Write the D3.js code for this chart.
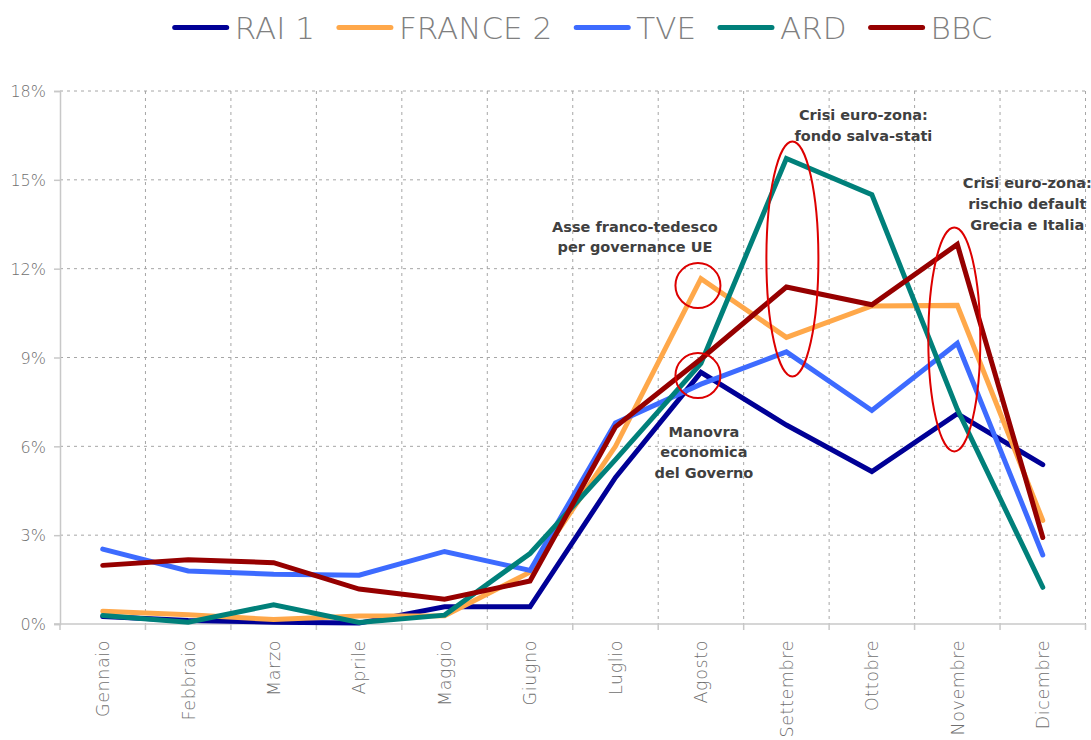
<!DOCTYPE html>
<html>
<head>
<meta charset="utf-8">
<script src="https://cdn.jsdelivr.net/npm/d3@7"></script>
<style>
  html, body { margin: 0; padding: 0; background: #ffffff; }
  svg { display: block; }
</style>
</head>
<body>
<svg id="chart" width="1091" height="740"></svg>
<script>
// ---- DATA ----
const months = ["Gennaio","Febbraio","Marzo","Aprile","Maggio","Giugno","Luglio","Agosto","Settembre","Ottobre","Novembre","Dicembre"];
const seriesNames = ["RAI 1","FRANCE 2","TVE","ARD","BBC"];
const rai1    = [0.25, 0.12, 0.06, 0.03, 0.58, 0.58, 4.95, 8.50, 6.72, 5.15, 7.10, 5.38];
const france2 = [0.43, 0.31, 0.15, 0.27, 0.28, 1.75, 6.00, 11.66, 9.68, 10.74, 10.76, 3.50];
const tve     = [2.53, 1.79, 1.68, 1.65, 2.45, 1.81, 6.79, 8.10, 9.19, 7.21, 9.48, 2.33];
const ard     = [0.29, 0.06, 0.65, 0.05, 0.30, 2.38, 5.55, 8.80, 15.72, 14.50, 7.25, 1.24];
const bbc     = [1.98, 2.17, 2.07, 1.18, 0.84, 1.45, 6.66, 8.95, 11.38, 10.78, 12.82, 2.92];
const yTicks  = [0, 3, 6, 9, 12, 15, 18];
const colors  = ["#000096", "#ffa84a", "#3d6bff", "#00807a", "#960000"];

// annotations: text lines, anchor month, x offset (px), first baseline value (%)
const notes = [
  { lines: ["Asse franco-tedesco", "per governance UE"], month: "Agosto", dx: -66, value: 13.25 },
  { lines: ["Manovra", "economica", "del Governo"], month: "Agosto", dx: 3, value: 6.33 },
  { lines: ["Crisi euro-zona:", "fondo salva-stati"], month: "Settembre", dx: 77, value: 17.03 },
  { lines: ["Crisi euro-zona:", "rischio default", "Grecia e Italia"], month: "Novembre", dx: 70, value: 14.72 }
];
// highlight ellipses: month, x offset, centre value (%), radii
const marks = [
  { month: "Agosto", dx: -3, value: 11.43, rx: 22.5, ry: 22.5 },
  { month: "Agosto", dx: -3, value: 8.39, rx: 22.5, ry: 22.5 },
  { month: "Settembre", dx: 6, value: 12.33, rx: 26, ry: 117.5 },
  { month: "Novembre", dx: -3, value: 9.61, rx: 26, ry: 112 }
];

const allSeries = [rai1, france2, tve, ard, bbc];

// ---- LAYOUT ----
const pLeft = 60, pRight = 1085.5, pTop = 91, pBottom = 624;
const svg = d3.select("#chart");
const x = d3.scaleBand().domain(months).range([pLeft, pRight]).padding(0);
const bw = x.bandwidth();
const xc = m => x(m) + bw / 2;
const y = d3.scaleLinear().domain([0, 18]).range([pBottom, pTop]);

const greyFont = "'DejaVu Sans', sans-serif";

// gridlines horizontal
svg.append("g").selectAll("line").data(yTicks.filter(t => t > 0)).join("line")
  .attr("x1", pLeft).attr("x2", pRight)
  .attr("y1", d => y(d)).attr("y2", d => y(d))
  .attr("stroke", "#a6a6a6").attr("stroke-width", 1).attr("stroke-dasharray", "3,4");

// gridlines vertical (category boundaries)
svg.append("g").selectAll("line").data(months).join("line")
  .attr("x1", d => x(d) + bw).attr("x2", d => x(d) + bw)
  .attr("y1", pTop).attr("y2", pBottom)
  .attr("stroke", "#a6a6a6").attr("stroke-width", 1).attr("stroke-dasharray", "3,4");

// y axis
const yAxis = svg.append("g").attr("transform", `translate(${pLeft},0)`)
  .call(d3.axisLeft(y).tickValues(yTicks).tickSize(6).tickPadding(8).tickFormat(d => d + "%"));
yAxis.select(".domain").attr("stroke", "#c8c8c8").attr("stroke-width", 1.5);
yAxis.selectAll(".tick line").attr("stroke", "#c8c8c8").attr("stroke-width", 1.5);
yAxis.selectAll(".tick text").attr("fill", "#6f6f6f").attr("font-family", greyFont)
  .attr("font-weight", 200).attr("font-size", 16).attr("dy", "0.36em");

// x axis
const xAxis = svg.append("g").attr("transform", `translate(0,${pBottom})`)
  .call(d3.axisBottom(x).tickSize(0).tickPadding(0));
xAxis.select(".domain").attr("stroke", "#c8c8c8").attr("stroke-width", 1.5)
  .attr("d", `M${pLeft - 6},0H${pRight}`);
xAxis.selectAll(".tick text")
  .attr("fill", "#6f6f6f").attr("font-family", greyFont).attr("font-weight", 200)
  .attr("font-size", 17.5).attr("letter-spacing", "0.6px")
  .attr("text-anchor", "end")
  .attr("transform", "translate(0,16) rotate(-90)")
  .attr("x", 0).attr("y", 0).attr("dy", "0.36em");
// boundary tick marks
svg.append("g").selectAll("line").data([months[0]].concat(months)).join("line")
  .attr("x1", (d, i) => i === 0 ? pLeft : x(d) + bw)
  .attr("x2", (d, i) => i === 0 ? pLeft : x(d) + bw)
  .attr("y1", pBottom).attr("y2", pBottom + 6)
  .attr("stroke", "#c8c8c8").attr("stroke-width", 1.5);

// lines
const line = d3.line().x((d, i) => xc(months[i])).y(d => y(d));
svg.append("g").selectAll("path").data(allSeries).join("path")
  .attr("d", d => line(d))
  .attr("fill", "none")
  .attr("stroke", (d, i) => colors[i])
  .attr("stroke-width", 5)
  .attr("stroke-linejoin", "miter")
  .attr("stroke-linecap", "round");

// highlight ellipses
svg.append("g").selectAll("ellipse").data(marks).join("ellipse")
  .attr("cx", d => xc(d.month) + d.dx)
  .attr("cy", d => y(d.value))
  .attr("rx", d => d.rx).attr("ry", d => d.ry)
  .attr("fill", "none").attr("stroke", "#dd0000").attr("stroke-width", 2);

// annotation text
const ng = svg.append("g");
notes.forEach(n => {
  const t = ng.append("text")
    .attr("x", xc(n.month) + n.dx).attr("y", y(n.value))
    .attr("text-anchor", "middle")
    .attr("font-family", "'DejaVu Sans', sans-serif").attr("font-weight", "bold")
    .attr("font-size", 14.5).attr("fill", "#404040");
  n.lines.forEach((l, i) => {
    t.append("tspan").attr("x", xc(n.month) + n.dx).attr("dy", i === 0 ? 0 : 20.8).text(l);
  });
});

// legend
const lg = svg.append("g");
const items = seriesNames.map((name, i) => {
  const g = lg.append("g");
  g.append("line").attr("x1", 0).attr("x2", 52).attr("y1", 0).attr("y2", 0)
    .attr("stroke", colors[i]).attr("stroke-width", 5).attr("stroke-linecap", "round");
  const t = g.append("text").attr("x", 60).attr("y", 0).attr("dy", "0.36em")
    .attr("font-family", greyFont).attr("font-weight", 200)
    .attr("font-size", 31).attr("fill", "#808080").text(name);
  return { g, w: 60 + t.node().getComputedTextLength() };
});
const gap = 24;
const total = d3.sum(items, d => d.w) + gap * (items.length - 1);
let lx = 583.5 - total / 2;
items.forEach(it => {
  it.g.attr("transform", `translate(${lx},27.5)`);
  lx += it.w + gap;
});
</script>
</body>
</html>
